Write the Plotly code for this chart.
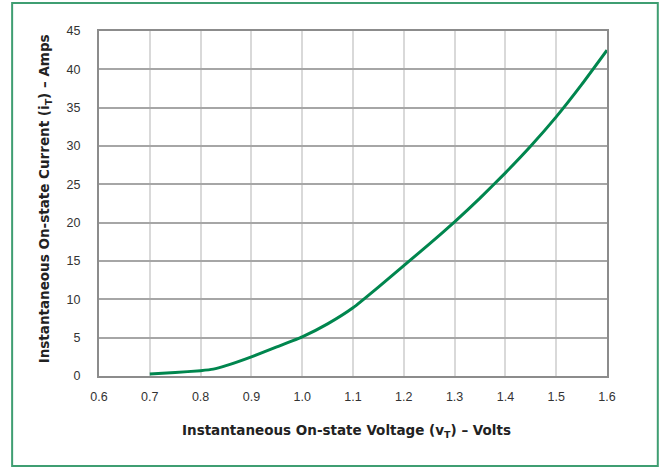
import plotly.graph_objects as go

voltage = [0.70, 0.75, 0.80, 0.825, 0.85, 0.90, 0.95, 1.00, 1.05, 1.10, 1.15, 1.20, 1.25, 1.30, 1.35, 1.40, 1.45, 1.50, 1.55, 1.60]
current = [0.25, 0.45, 0.7, 0.9, 1.35, 2.5, 3.8, 5.1, 6.8, 8.9, 11.6, 14.4, 17.2, 20.1, 23.2, 26.5, 30.0, 33.8, 38.0, 42.5]

x_ticks = [0.6, 0.7, 0.8, 0.9, 1.0, 1.1, 1.2, 1.3, 1.4, 1.5, 1.6]
x_labels = ["0.6", "0.7", "0.8", "0.9", "1.0", "1.1", "1.2", "1.3", "1.4", "1.5", "1.6"]
y_ticks = [0, 5, 10, 15, 20, 25, 30, 35, 40, 45]

x_title = "Instantaneous On-state Voltage (v<sub>T</sub>) – Volts"
y_title = "Instantaneous On-state Current (i<sub>T</sub>) – Amps"

fig = go.Figure()
fig.add_trace(go.Scatter(x=voltage, y=current, mode="lines",
                         line=dict(color="#00864e", width=3, shape="spline", smoothing=0.4),
                         showlegend=False, hoverinfo="skip"))

font = dict(family="Liberation Sans, Arial, sans-serif", color="#333333")
title_font = dict(size=13.5, family="DejaVu Sans, sans-serif", color="#222222")
fig.update_layout(
    width=662, height=468,
    margin=dict(l=99, r=55, t=31, b=92),
    paper_bgcolor="white", plot_bgcolor="white",
    font=dict(size=12, **font),
    xaxis=dict(range=[0.6, 1.6], tickvals=x_ticks, ticktext=x_labels,
               showgrid=True, gridcolor="#d9d9d9", gridwidth=1.5,
               showline=True, linecolor="#8c8c8c", linewidth=2, mirror=True,
               zeroline=False, ticks="", ticklabelstandoff=8,
               tickfont=dict(size=12.5, **font)),
    yaxis=dict(range=[0, 45], tickvals=y_ticks,
               showgrid=True, gridcolor="#a6a6a6", gridwidth=1.5,
               showline=True, linecolor="#8c8c8c", linewidth=2, mirror=True,
               zeroline=False, ticks="", ticklabelstandoff=14,
               tickfont=dict(size=12.5, **font)),
    annotations=[
        dict(text="<b>" + x_title + "</b>", xref="paper", yref="paper",
             x=0.488, y=-0.159, xanchor="center", yanchor="middle",
             showarrow=False, font=title_font),
        dict(text="<b>" + y_title + "</b>", xref="paper", yref="paper",
             x=-0.1063, y=0.515, xanchor="center", yanchor="middle", textangle=-90,
             showarrow=False, font=title_font),
    ],
    shapes=[dict(type="rect", xref="paper", yref="paper",
                 x0=-0.171, x1=1.100, y0=-0.261, y1=1.081,
                 line=dict(color="#3f9e72", width=2), fillcolor="rgba(0,0,0,0)", layer="below")],
)

fig.write_html("out.html", config={"displayModeBar": False},
               post_script="document.body.style.margin='0';document.body.style.overflow='hidden';")
